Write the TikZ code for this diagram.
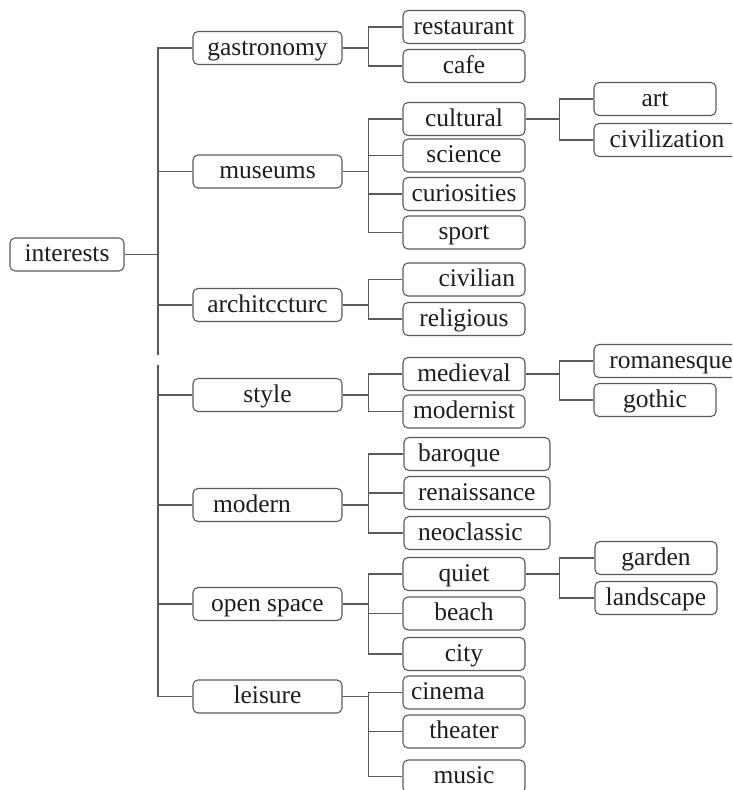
\documentclass[tikz,border=0pt]{standalone}
\usepackage{fontspec}
\setmainfont{Liberation Serif}
\usetikzlibrary{calc}
\definecolor{linegray}{HTML}{5A5A5A}
\definecolor{textblack}{HTML}{1E1E1E}

\tikzset{
  box/.style={draw=linegray, line width=1.1pt, rounded corners=5pt,
    minimum height=33pt, inner sep=0pt, text=textblack,
    font=\fontsize{25.5}{30}\selectfont, text height=20pt, text depth=5.6pt},
  lone/.style={box, minimum width=149pt},
  ltwo/.style={box, minimum width=122pt},
  link/.style={draw=linegray, line width=1.2pt}
}

\begin{document}
\begin{tikzpicture}[x=1pt, y=-1pt]
  \useasboundingbox (0,0) rectangle (732,790);
  \clip (0,0) rectangle (732,790);
  % --- root ---
  \node[box, minimum width=114pt] (interests) at (67,254.5) {interests};
  % --- first level ---
  \node[lone] (gastronomy) at (267.5,48) {gastronomy};
  \node[lone] (museums) at (267.5,171.5) {museums};
  \node[lone] (architecture) at (267.5,305) {architccturc};
  \node[lone] (style) at (267.5,395) {style};
  \node[lone, align=left, text width=109pt] (modern) at (267.5,505) {modern};
  \node[lone] (openspace) at (267.5,604) {open space};
  \node[lone] (leisure) at (267.5,696.5) {leisure};
  % --- second level ---
  \node[ltwo] (restaurant) at (464,27) {restaurant};
  \node[ltwo] (cafe) at (464,66) {cafe};
  \node[ltwo] (cultural) at (464,119) {cultural};
  \node[ltwo] (science) at (464,155.5) {science};
  \node[ltwo] (curiosities) at (464,194) {curiosities};
  \node[ltwo] (sport) at (464,232.5) {sport};
  \node[ltwo, align=right, text width=102pt] (civilian) at (464,279.5) {civilian};
  \node[ltwo] (religious) at (464,319) {religious};
  \node[ltwo] (medieval) at (464,374) {medieval};
  \node[ltwo] (modernist) at (464,411.5) {modernist};
  \node[ltwo, minimum width=146pt, align=left, text width=118pt] (baroque) at (477,454) {baroque};
  \node[ltwo, minimum width=146pt, align=left, text width=118pt] (renaissance) at (477,493) {renaissance};
  \node[ltwo, minimum width=146pt, align=left, text width=118pt] (neoclassic) at (477,533) {neoclassic};
  \node[ltwo] (quiet) at (464,574) {quiet};
  \node[ltwo] (beach) at (464,613.5) {beach};
  \node[ltwo] (city) at (464,654) {city};
  \node[ltwo, align=left, text width=106pt] (cinema) at (464,692.5) {cinema};
  \node[ltwo] (theater) at (464,731.5) {theater};
  \node[ltwo] (music) at (464,776.5) {music};
  % --- third level ---
  \node[ltwo] (art) at (655,99) {art};
  \node[ltwo, minimum width=146pt] (civilization) at (667,140) {civilization};
  \node[ltwo, minimum width=154pt] (romanesque) at (671,361) {romanesque};
  \node[ltwo] (gothic) at (655,400) {gothic};
  \node[ltwo] (garden) at (656,558) {garden};
  \node[ltwo] (landscape) at (656,598) {landscape};
  % --- connectors ---
  \coordinate (gaptop) at (158,355);
  \coordinate (gapbottom) at (158,365);
  \draw[link] (gastronomy.west) -| (gaptop);
  \draw[link] (gapbottom) |- (leisure.west);
  \draw[link] (interests.east) -- (interests.east -| gaptop);
  \foreach \kid in {museums, architecture, style, modern, openspace}
    \draw[link] (\kid.west) -- (\kid.west -| gaptop);
  \foreach \up/\kid in {gastronomy/restaurant, gastronomy/cafe,
      museums/cultural, museums/science, museums/curiosities, museums/sport,
      architecture/civilian, architecture/religious,
      style/medieval, style/modernist,
      modern/baroque, modern/renaissance, modern/neoclassic,
      openspace/quiet, openspace/beach, openspace/city,
      leisure/cinema, leisure/theater, leisure/music}
    \draw[link] (\up.east) -- ++(26,0) |- (\kid.west);
  \foreach \up/\kid in {cultural/art, cultural/civilization,
      medieval/romanesque, medieval/gothic, quiet/garden, quiet/landscape}
    \draw[link] (\up.east) -- ++(34,0) |- (\kid.west);
\end{tikzpicture}
\end{document}
